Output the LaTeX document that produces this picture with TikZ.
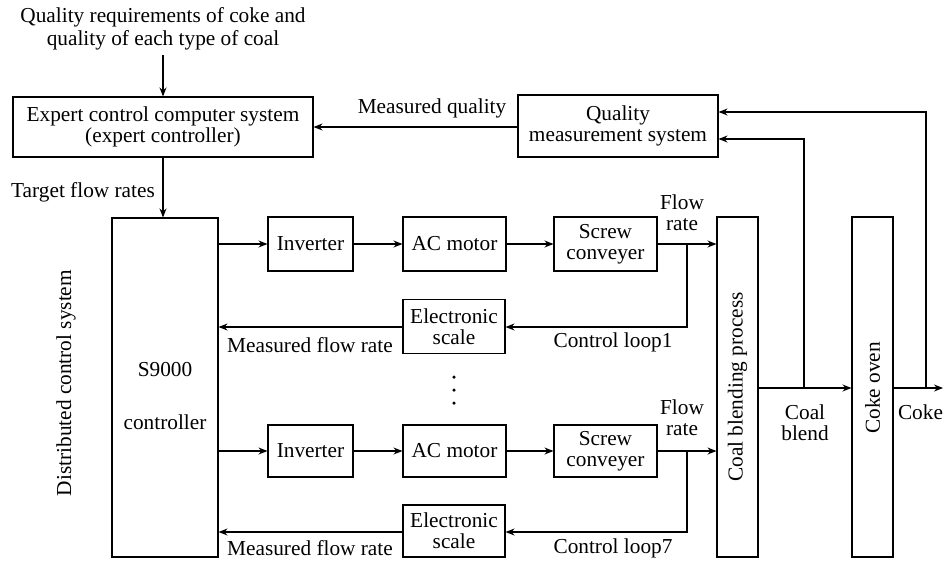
\documentclass[tikz,border=0pt]{standalone}
\usepackage{fontspec}
\setmainfont{Liberation Serif}
\usetikzlibrary{arrows.meta}
\begin{document}
\begin{tikzpicture}[x=1pt,y=-1pt,
  line width=1.1pt,
  >={Stealth[length=9pt,width=7pt,inset=3pt]},
  every node/.style={font=\fontsize{21.3}{21}\selectfont, align=center},
  box/.style={draw, inner sep=0pt, minimum width=#1},
  rowbox/.style={box=#1, minimum height=54pt},
  tallbox/.style={draw, inner sep=0pt, minimum width=41pt, minimum height=340pt},
  lbl/.style={inner sep=0pt},
  dotmark/.style={fill, circle, inner sep=0pt, minimum size=3.5pt}
]
\useasboundingbox (0,0) rectangle (944,560);

% top-level controller and quality measurement
\node[lbl, font=\fontsize{21.3}{23}\selectfont] (req) at (163,29) {Quality requirements of coke and\\quality of each type of coal};
\node[box=300, minimum height=60pt] (expert) at (163,127) {Expert control computer system\\(expert controller)};
\node[box=200, minimum height=62pt] (qms) at (618,126) {Quality\\measurement system};

% distributed control system
\node[box=106, minimum height=339pt] (dcs) at (165,387.5) {};
\node[lbl] at (165,370) {S9000};
\node[lbl] at (165,422) {controller};
\node[lbl, rotate=90] (dcslbl) at (66,383) {Distributed control system};

% feeder line 1
\node[rowbox=85] (inv1) at (310.5,244) {Inverter};
\node[rowbox=103] (ac1) at (454.5,244) {AC motor};
\node[rowbox=103] (sc1) at (605.5,244) {Screw\\conveyer};
\node[rowbox=102] (es1) at (454,326.5) {Electronic\\scale};

% feeder line 7
\node[rowbox=85, minimum height=52pt] (inv2) at (310.5,451) {Inverter};
\node[rowbox=103, minimum height=52pt] (ac2) at (454.5,451) {AC motor};
\node[rowbox=103, minimum height=52pt] (sc2) at (605.5,451) {Screw\\conveyer};
\node[rowbox=102, minimum height=52pt] (es2) at (454,531) {Electronic\\scale};

% vertical ellipsis between the loops
\node[dotmark] (d1) at (454,377) {};
\node[dotmark] (d2) at (454,390) {};
\node[dotmark] (d3) at (454,403) {};

% process blocks
\node[tallbox] (blend) at (737.5,387) {};
\node[lbl, rotate=90] at (737.5,387) {Coal blending process};
\node[tallbox] (oven) at (872.5,387) {};
\node[lbl, rotate=90] at (872.5,388) {Coke oven};

% branch points
\coordinate (b1) at (687,244);
\coordinate (b2) at (687,451);
\coordinate (bb) at (804,388);
\coordinate (bc) at (926,388);
\coordinate (cokeend) at (943,388);

% connectors: top
\draw[->] (req.south |- 0,55) -- (expert.north);
\draw[->] (qms.west |- 0,127) -- (expert.east |- 0,127);
\node[lbl] at (432,108) {Measured quality};
\draw[->] (expert.south) -- (dcs.north -| expert.south);
\node[lbl] at (83,192) {Target flow rates};

% loop 1
\draw[->] (dcs.east |- inv1) -- (inv1.west);
\draw[->] (inv1) -- (ac1);
\draw[->] (ac1) -- (sc1);
\draw[->] (sc1.east) -- (blend.west |- sc1);
\draw[->] (b1) |- (es1.east |- 0,327);
\draw[->] (es1.west |- 0,327) -- (dcs.east |- 0,327);
\node[lbl] at (682,213) {Flow\\rate};
\node[lbl] at (613,342) {Control loop1};
\node[lbl] at (310,345) {Measured flow rate};

% loop 7
\draw[->] (dcs.east |- inv2) -- (inv2.west);
\draw[->] (inv2) -- (ac2);
\draw[->] (ac2) -- (sc2);
\draw[->] (sc2.east) -- (blend.west |- sc2);
\draw[->] (b2) |- (es2.east |- 0,532);
\draw[->] (es2.west |- 0,532) -- (dcs.east |- 0,532);
\node[lbl] at (682,418) {Flow\\rate};
\node[lbl] at (613,548) {Control loop7};
\node[lbl] at (310,548) {Measured flow rate};

% coal blend and coke streams
\draw[->] (blend.east |- bb) -- (oven.west |- bb);
\draw[->] (bb) |- (qms.east |- 0,139);
\node[lbl] at (805,422.5) {Coal\\blend};
\draw[->] (oven.east |- bc) -- (cokeend);
\draw[->] (bc) |- (qms.east |- 0,112);
\node[lbl, anchor=east] at (943.5,412) {Coke};
\end{tikzpicture}
\end{document}
